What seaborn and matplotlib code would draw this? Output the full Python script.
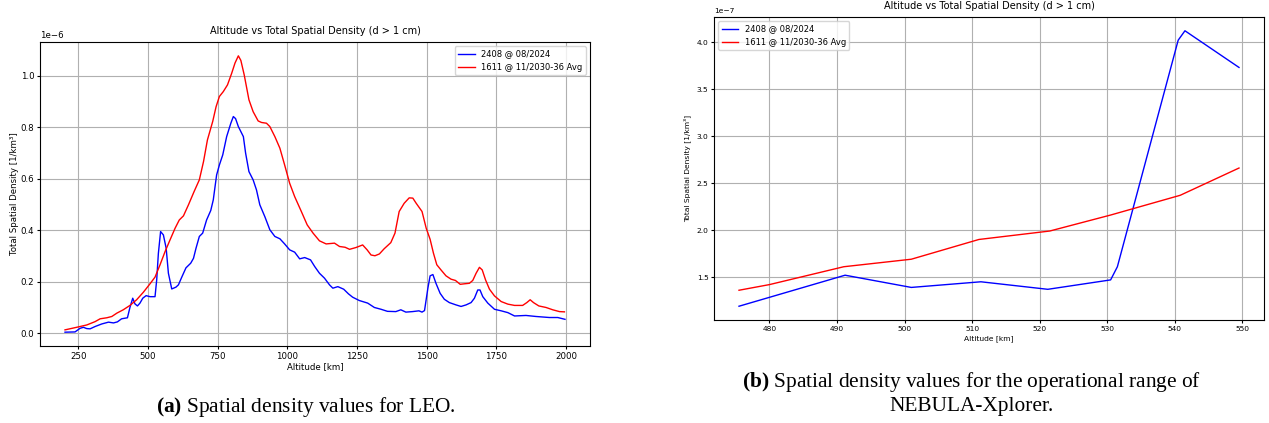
import numpy as np
import matplotlib
matplotlib.use("Agg")
import matplotlib.pyplot as plt
import seaborn as sns

# LEO range, 200-2000 km (values in 1e-6 1/km^3)
leo_alt_2408 = [202, 238, 256, 268, 280, 292, 310, 334, 358, 376, 390, 405, 426, 435, 445, 453,
                462, 471, 481, 493, 507, 525, 531, 537, 545, 555, 565, 573, 585, 600, 609, 621,
                636, 653, 663, 672, 684, 696, 710, 725, 734, 746, 756, 768, 782, 797, 806, 814,
                824, 842, 850, 862, 877, 889, 901, 919, 937, 955, 973, 990, 1008, 1026, 1044,
                1062, 1083, 1098, 1115, 1133, 1151, 1163, 1181, 1202, 1219, 1234, 1258, 1288,
                1312, 1336, 1359, 1389, 1407, 1425, 1449, 1472, 1483, 1492, 1504, 1512, 1522,
                1533, 1548, 1563, 1581, 1605, 1623, 1641, 1659, 1671, 1683, 1691, 1701, 1719,
                1743, 1767, 1791, 1815, 1856, 1892, 1940, 1970, 1996]
leo_dens_2408 = [0.004, 0.005, 0.019, 0.023, 0.018, 0.017, 0.026, 0.036, 0.043, 0.040, 0.044,
                 0.056, 0.060, 0.100, 0.136, 0.114, 0.106, 0.117, 0.136, 0.146, 0.142, 0.142,
                 0.207, 0.310, 0.395, 0.382, 0.330, 0.233, 0.172, 0.179, 0.188, 0.218, 0.254,
                 0.272, 0.291, 0.330, 0.376, 0.389, 0.440, 0.477, 0.518, 0.615, 0.654, 0.693,
                 0.764, 0.816, 0.842, 0.834, 0.803, 0.764, 0.700, 0.628, 0.596, 0.557, 0.499,
                 0.453, 0.402, 0.376, 0.367, 0.347, 0.324, 0.315, 0.289, 0.294, 0.285, 0.259,
                 0.233, 0.214, 0.188, 0.175, 0.181, 0.171, 0.153, 0.140, 0.127, 0.117, 0.100,
                 0.093, 0.085, 0.084, 0.091, 0.082, 0.084, 0.087, 0.082, 0.088, 0.175, 0.223,
                 0.228, 0.194, 0.155, 0.132, 0.119, 0.110, 0.104, 0.110, 0.119, 0.136, 0.168,
                 0.168, 0.142, 0.117, 0.093, 0.087, 0.080, 0.067, 0.069, 0.065, 0.061, 0.061,
                 0.054]

leo_alt_1611 = [202, 244, 280, 310, 328, 352, 370, 388, 411, 435, 459, 483, 507, 525, 543, 561,
                579, 597, 612, 627, 645, 665, 684, 699, 713, 732, 744, 756, 770, 785, 800, 812,
                824, 833, 845, 862, 877, 895, 907, 925, 937, 955, 973, 990, 1008, 1026, 1050,
                1071, 1092, 1115, 1139, 1169, 1187, 1207, 1223, 1246, 1270, 1286, 1300, 1314,
                1330, 1347, 1371, 1386, 1401, 1419, 1437, 1450, 1462, 1483, 1498, 1512, 1524,
                1536, 1551, 1569, 1587, 1603, 1620, 1635, 1653, 1665, 1677, 1689, 1699, 1711,
                1725, 1743, 1767, 1791, 1815, 1844, 1859, 1871, 1883, 1902, 1928, 1952, 1976,
                1994]
leo_dens_1611 = [0.013, 0.023, 0.032, 0.045, 0.056, 0.060, 0.065, 0.078, 0.091, 0.108, 0.130,
                 0.159, 0.192, 0.218, 0.266, 0.317, 0.363, 0.408, 0.440, 0.456, 0.499, 0.550,
                 0.596, 0.667, 0.751, 0.823, 0.880, 0.920, 0.939, 0.965, 1.010, 1.050, 1.078,
                 1.060, 1.004, 0.907, 0.861, 0.825, 0.819, 0.816, 0.803, 0.764, 0.719, 0.654,
                 0.583, 0.531, 0.473, 0.421, 0.389, 0.359, 0.347, 0.350, 0.337, 0.334, 0.326,
                 0.333, 0.343, 0.324, 0.304, 0.301, 0.308, 0.328, 0.352, 0.389, 0.473, 0.505,
                 0.526, 0.525, 0.505, 0.473, 0.408, 0.365, 0.311, 0.266, 0.246, 0.223, 0.210,
                 0.205, 0.190, 0.192, 0.194, 0.205, 0.233, 0.256, 0.246, 0.207, 0.171, 0.145,
                 0.123, 0.113, 0.108, 0.108, 0.119, 0.130, 0.119, 0.106, 0.100, 0.091, 0.084,
                 0.083]

# NEBULA-Xplorer operational range (values in 1e-7 1/km^3)
op_alt_2408 = [475.5, 491.2, 501.0, 511.3, 521.2, 530.5, 531.5, 540.5, 541.5, 549.5]
op_dens_2408 = [1.19, 1.52, 1.39, 1.45, 1.37, 1.47, 1.61, 4.02, 4.12, 3.73]
op_alt_1611 = [475.5, 480.0, 491.0, 501.0, 511.0, 521.5, 530.5, 540.8, 549.5]
op_dens_1611 = [1.36, 1.42, 1.61, 1.69, 1.90, 1.99, 2.16, 2.37, 2.66]

labels = ["2408 @ 08/2024", "1611 @ 11/2030-36 Avg"]
title = "Altitude vs Total Spatial Density (d > 1 cm)"

plt.rcParams["mathtext.fontset"] = "custom"
plt.rcParams["mathtext.rm"] = "Liberation Serif"
plt.rcParams["mathtext.bf"] = "Liberation Serif:bold"

W, H = 1269, 423
fig = plt.figure(figsize=(W / 100, H / 100), dpi=100)
ax1 = fig.add_axes([40 / W, 1 - 346 / H, 550 / W, 304 / H])
ax2 = fig.add_axes([714 / W, 1 - 320 / H, 550 / W, 303 / H])


def draw(ax, alt_a, dens_a, alt_b, dens_b, scale, fs, loc, xpad, ypad):
    sns.lineplot(x=alt_a, y=np.array(dens_a) * scale, ax=ax, color="blue",
                 lw=1.0, label=labels[0])
    sns.lineplot(x=alt_b, y=np.array(dens_b) * scale, ax=ax, color="red",
                 lw=1.0, label=labels[1])
    ax.set_title(title, fontsize=7)
    ax.set_xlabel("Altitude [km]", fontsize=fs, labelpad=xpad)
    ax.set_ylabel("Total Spatial Density [1/km³]", fontsize=fs, labelpad=ypad)
    ax.tick_params(labelsize=fs, length=2.5, pad=1.5)
    ax.yaxis.get_offset_text().set_fontsize(fs)
    ax.grid(True)
    ax.legend(fontsize=6, loc=loc)


draw(ax1, leo_alt_2408, leo_dens_2408, leo_alt_1611, leo_dens_1611, 1e-6, 6.2,
     "upper right", 1, 1)
draw(ax2, op_alt_2408, op_dens_2408, op_alt_1611, op_dens_1611, 1e-7, 5.4,
     "upper left", 3, 4)

cap = dict(family="Liberation Serif", fontsize=15.4, ha="center", va="center")
fig.text(306 / W, 1 - 407 / H, r"$\mathbf{(a)}$ Spatial density values for LEO.", **cap)
fig.text(972 / W, 1 - 382 / H,
         r"$\mathbf{(b)}$ Spatial density values for the operational range of", **cap)
fig.text(972 / W, 1 - 406 / H, "NEBULA-Xplorer.", **cap)

fig.savefig("out.png", dpi=100)
